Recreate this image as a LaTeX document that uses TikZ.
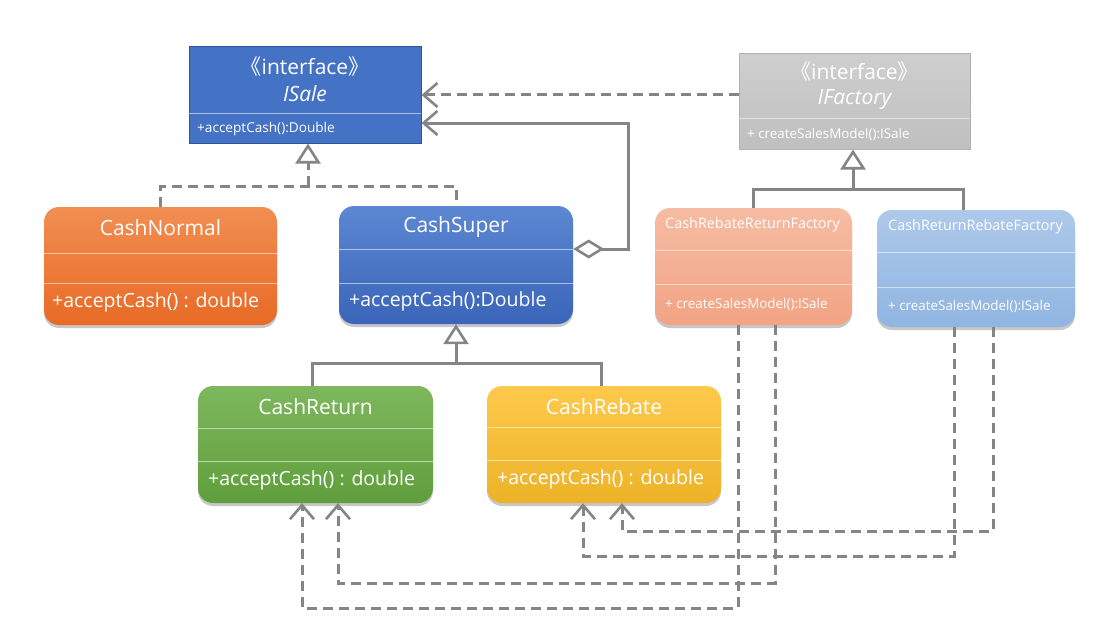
\documentclass[tikz,border=0pt]{standalone}
\usepackage{fontspec}
\setmainfont{Open Sans}
\newfontfamily\cjk{Noto Sans CJK SC}
\usetikzlibrary{arrows.meta,shadows}
\definecolor{lnc}{HTML}{858585}
\definecolor{isaleF}{HTML}{4472C4}
\definecolor{isaleD}{HTML}{2F5597}
\tikzset{
  conn/.style={draw=lnc, line width=3pt},
  dashconn/.style={conn, dash pattern=on 10pt off 6pt},
  vee/.style={-{Straight Barb[length=14pt,width=24pt,line width=2.6pt]}},
  gen/.style={-{Triangle[open,length=20pt,width=25pt,fill=white,line width=2.6pt]}},
  agg/.style={{Diamond[open,length=31pt,width=19pt,fill=white,line width=2.6pt]}-{Straight Barb[length=14pt,width=24pt,line width=2.6pt]}},
  cbox/.style={rounded corners=15pt, inner sep=0pt, draw=none,
    drop shadow={shadow xshift=0pt, shadow yshift=-3pt, opacity=0.22, fill=black}},
  ibox/.style={inner sep=0pt},
  divl/.style={draw=white, opacity=0.55, line width=0.9pt},
  txt/.style={inner sep=0pt, text=white},
  ster/.style={txt, font=\fontsize{21}{25}\selectfont},
  ttl/.style={txt, font=\fontsize{21}{25}\selectfont},
  mth/.style={txt, anchor=west, font=\fontsize{19.5}{23}\selectfont},
  ftl/.style={txt, anchor=west, font=\fontsize{14.4}{17}\selectfont},
  fmt/.style={txt, anchor=west, font=\fontsize{13.4}{16}\selectfont},
}
\begin{document}
\begin{tikzpicture}[x=1pt,y=-1pt]
\useasboundingbox[fill=white] (0,0) rectangle (1112,626);

% ---------- ISale ----------
\node[ibox, fill=isaleF, draw=isaleD, line width=1pt, minimum width=232pt, minimum height=96pt] (isale) at (305,95) {};
\draw[divl] (189,113) -- (421,113);
\node[ster] (isaleS) at (305,67) {{\cjk 《}interface{\cjk 》}};
\node[txt, font=\fontsize{21}{25}\selectfont\itshape] (isaleN) at (305,94) {ISale};
\node[txt, anchor=west, font=\fontsize{13.6}{16}\selectfont] (isaleM) at (197,129) {+acceptCash():Double};

% ---------- IFactory ----------
\node[ibox, top color=gray!38, bottom color=gray!50, draw=gray!60, line width=1pt, minimum width=231pt, minimum height=95pt] (ifac) at (854.5,101.5) {};
\draw[divl] (739,118) -- (970,118);
\node[ster] (ifacS) at (854.5,72) {{\cjk 《}interface{\cjk 》}};
\node[txt, font=\fontsize{21}{25}\selectfont\itshape] (ifacN) at (854.5,100) {IFactory};
\node[fmt] (ifacM) at (747,134) {+ createSalesModel():ISale};

% ---------- CashNormal ----------
\node[cbox, top color={rgb,255:red,241;green,142;blue,82}, bottom color={rgb,255:red,232;green,106;blue,38}, minimum width=233pt, minimum height=118pt] (cn) at (160.5,266) {};
\draw[divl] (44,253) -- (277,253);
\draw[divl] (44,283) -- (277,283);
\node[ttl] (cnT) at (160.5,228) {CashNormal};
\node[mth] (cnM) at (52,302) {+acceptCash() : double};

% ---------- CashSuper ----------
\node[cbox, top color={rgb,255:red,92;green,135;blue,210}, bottom color={rgb,255:red,58;green,101;blue,185}, minimum width=234pt, minimum height=118pt] (cs) at (456,265) {};
\draw[divl] (339,249) -- (573,249);
\draw[divl] (339,283) -- (573,283);
\node[ttl] (csT) at (456,227) {CashSuper};
\node[mth] (csM) at (349,301) {+acceptCash():Double};

% ---------- CashReturn ----------
\node[cbox, top color={rgb,255:red,126;green,183;blue,93}, bottom color={rgb,255:red,96;green,158;blue,60}, minimum width=235pt, minimum height=117pt] (cr) at (315.5,444.5) {};
\draw[divl] (198,428) -- (433,428);
\draw[divl] (198,461) -- (433,461);
\node[ttl] (crT) at (315.5,407) {CashReturn};
\node[mth] (crM) at (208,480) {+acceptCash() : double};

% ---------- CashRebate ----------
\node[cbox, top color={rgb,255:red,254;green,201;blue,76}, bottom color={rgb,255:red,236;green,179;blue,40}, minimum width=234pt, minimum height=117pt] (cb) at (604,444.5) {};
\draw[divl] (487,427) -- (721,427);
\draw[divl] (487,460) -- (721,460);
\node[ttl] (cbT) at (604,407) {CashRebate};
\node[mth] (cbM) at (497,479) {+acceptCash() : double};

% ---------- CashRebateReturnFactory ----------
\node[cbox, top color={rgb,255:red,246;green,188;blue,163}, bottom color={rgb,255:red,242;green,163;blue,132}, minimum width=197pt, minimum height=117pt] (f1) at (753.5,266.5) {};
\draw[divl] (655,250) -- (852,250);
\draw[divl] (655,284) -- (852,284);
\node[ftl] (f1T) at (665,225) {CashRebateReturnFactory};
\node[fmt] (f1M) at (665,304) {+ createSalesModel():ISale};

% ---------- CashReturnRebateFactory ----------
\node[cbox, top color={rgb,255:red,174;green,201;blue,234}, bottom color={rgb,255:red,143;green,181;blue,225}, minimum width=198pt, minimum height=117pt] (f2) at (976,268.5) {};
\draw[divl] (877,252) -- (1075,252);
\draw[divl] (877,287) -- (1075,287);
\node[ftl] (f2T) at (888,227) {CashReturnRebateFactory};
\node[fmt] (f2M) at (888,306) {+ createSalesModel():ISale};

% ---------- connectors ----------
% IFactory -> ISale (dependency)
\draw[dashconn, vee] (ifac.west |- 0,95) -- (isale.east |- 0,95);
% CashSuper aggregation -> ISale
\draw[conn, agg] (cs.east |- 0,249) -- (628,249) |- (isale.east |- 0,123);
% realization CashNormal / CashSuper -> ISale
\coordinate (rj) at (308,186);
\draw[dashconn] (cn.north) |- (rj) -| (cs.north);
\draw[dashconn, gen] (rj) -- (isale.south -| rj);
% generalization CashReturn / CashRebate -> CashSuper
\coordinate (gj) at (456,363);
\draw[conn] (cr.north -| 312,0) |- (gj) -| (cb.north -| 601,0);
\draw[conn, gen] (gj) -- (cs.south);
% generalization factories -> IFactory
\coordinate (fj) at (853,189);
\draw[conn] (f1.north -| 753,0) |- (fj) -| (f2.north -| 963,0);
\draw[conn, gen] (fj) -- (ifac.south -| fj);
% factories -> products (dependencies)
\draw[dashconn, vee] (f1.south -| 738,0) -- (738,608) -| (cr.south -| 302,0);
\draw[dashconn, vee] (f1.south -| 775,0) -- (775,583) -| (cr.south -| 338,0);
\draw[dashconn, vee] (f2.south -| 954,0) -- (954,556) -| (cb.south -| 583,0);
\draw[dashconn, vee] (f2.south -| 993,0) -- (993,531) -| (cb.south -| 622,0);
\end{tikzpicture}
\end{document}
